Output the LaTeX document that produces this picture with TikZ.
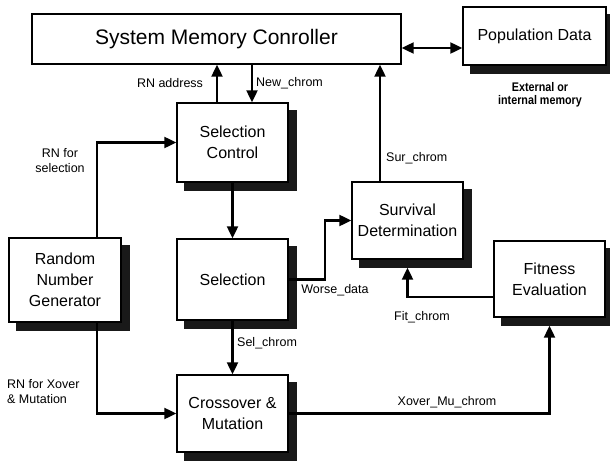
\documentclass[tikz,border=0pt]{standalone}
\usepackage{fontspec}
\setmainfont{Liberation Sans}
\newfontfamily\condfont[FakeStretch=0.86]{Liberation Sans}
\usepackage{tikz}
\usetikzlibrary{arrows.meta,shadows}

\tikzset{
  block/.style={draw, line width=1.4pt, fill=white, align=center, inner sep=0pt,
    minimum width=111pt, font=\fontsize{16}{21}\selectfont},
  shade/.style={general shadow={shadow xshift=8pt, shadow yshift=-8pt, fill=black!90, draw=black!90}},
  sig/.style={line width=2.2pt, -{Triangle[length=12pt,width=11pt]}},
  lbl/.style={font=\fontsize{12.5}{15}\selectfont, inner sep=0pt}
}

\begin{document}
\begin{tikzpicture}[x=1pt,y=-1pt]
        \useasboundingbox (0,0) rectangle (610,463);

        % Draw blocks
        \node[block, minimum width=369pt, minimum height=50pt, font=\fontsize{21}{25}\selectfont] (smc) at (216.5,39) {System Memory Conroller};
        \node[block, shade, minimum width=143pt, minimum height=58pt] (pop) at (534.5,36) {Population Data};
        \node[block, shade, minimum height=79pt] (selctl) at (232.5,142.5) {Selection\\Control};
        \node[block, shade, minimum height=81pt] (sel) at (232.5,279.5) {Selection};
        \node[block, shade, minimum width=112pt, minimum height=84pt] (rng) at (65,280) {Random\\Number\\Generator};
        \node[block, shade, minimum height=77pt] (surv) at (407.5,220.5) {Survival\\Determination};
        \node[block, shade, minimum height=76pt] (fit) at (549.5,279) {Fitness\\Evaluation};
        \node[block, shade, minimum height=77pt] (xover) at (232.5,413.5) {Crossover \&\\Mutation};

        % Draw connectors
        \draw[{Triangle[length=12pt,width=11pt]}-{Triangle[length=12pt,width=11pt]}, line width=2.2pt]
          ([yshift=-9pt]smc.east) -- ([yshift=-9pt]smc.east -| pop.west);
        \draw[sig] ([xshift=-15.5pt]selctl.north) -- ([xshift=-15.5pt]selctl.north |- smc.south);
        \draw[sig] ([xshift=19.5pt]selctl.north |- smc.south) -- ([xshift=19.5pt]selctl.north);
        \draw[sig] ([xshift=-27.5pt]surv.north) -- ([xshift=-27.5pt]surv.north |- smc.south);
        \draw[sig] ([xshift=32pt]rng.north) |- (selctl.west);
        \draw[sig] (selctl.south) -- (sel.north);
        \draw[sig] (sel.east) -- ++(36,0) |- (surv.west);
        \draw[sig] ([yshift=-18pt]fit.west) -| ([yshift=-8pt]surv.south);
        \draw[sig] (sel.south) -- (xover.north);
        \draw[sig] ([xshift=32pt]rng.south) |- (xover.west);
        \draw[sig] (xover.east) -| ([yshift=-8pt]fit.south);

        % Labels
        \node[lbl] (rnaddr) at (170,83) {RN address};
        \node[lbl, anchor=west] (newchrom) at (256,83) {New\_chrom};
        \node[lbl, anchor=west] (surchrom) at (386,158) {Sur\_chrom};
        \node[lbl, align=center] (rnsel) at (60,161) {RN for\\selection};
        \node[lbl] (worse) at (335,290) {Worse\_data};
        \node[lbl] (fitchrom) at (422,317) {Fit\_chrom};
        \node[lbl, anchor=west] (selchrom) at (237,343) {Sel\_chrom};
        \node[lbl, align=left, anchor=west] (rnxo) at (7,392) {RN for Xover\\\& Mutation};
        \node[lbl] (xomu) at (447,402) {Xover\_Mu\_chrom};
        \node[lbl, align=center, font=\condfont\bfseries\fontsize{12.5}{13.5}\selectfont] (extmem) at (540,95) {External or\\internal memory};
    \end{tikzpicture}
\end{document}
